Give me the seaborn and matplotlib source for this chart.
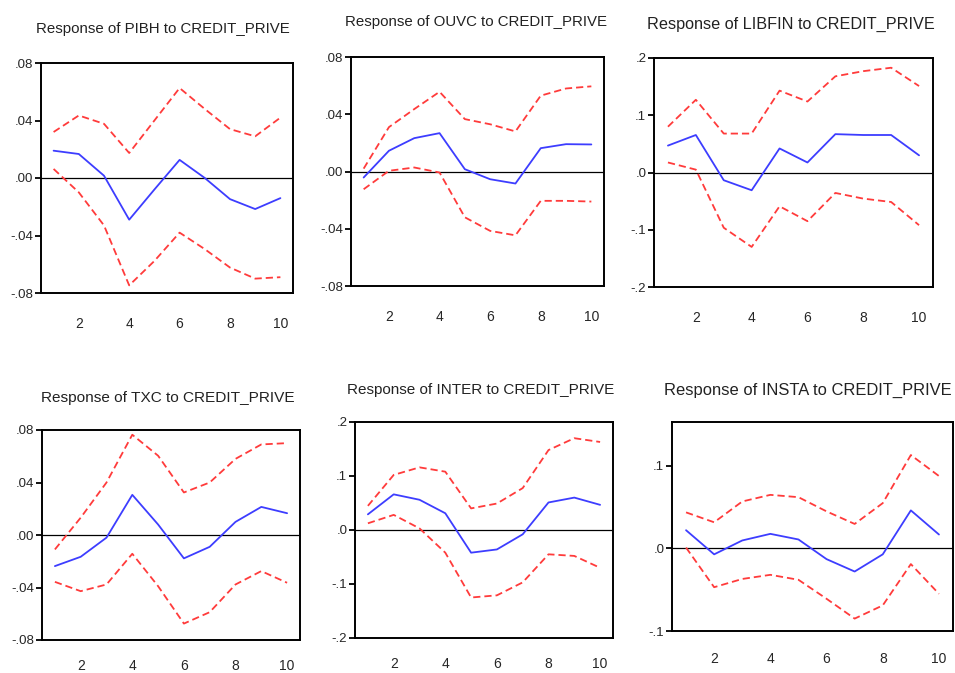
import numpy as np
import pandas as pd
import matplotlib
matplotlib.use("Agg")
import matplotlib.pyplot as plt
from matplotlib import font_manager
from matplotlib.ticker import FixedLocator
import seaborn as sns

# Impulse responses (Cholesky) of each variable to a CREDIT_PRIVE shock, with +/- 2 S.E. bands
periods = list(range(1, 11))

pibh_resp = [0.019, 0.0167, 0.0016, -0.029, -0.008, 0.0126, 0.000, -0.0147, -0.0216, -0.014]
pibh_upper = [0.032, 0.0435, 0.0377, 0.0174, 0.040, 0.0626, 0.048, 0.034, 0.029, 0.042]
pibh_lower = [0.0063, -0.010, -0.033, -0.0747, -0.0577, -0.038, -0.0495, -0.0623, -0.070, -0.069]

ouvc_resp = [-0.0042, 0.0145, 0.0233, 0.0268, 0.0016, -0.0054, -0.0084, 0.0163, 0.0191, 0.0189]
ouvc_upper = [0.002, 0.031, 0.0436, 0.0557, 0.0366, 0.033, 0.028, 0.053, 0.058, 0.0595]
ouvc_lower = [-0.0124, 0.0005, 0.0028, -0.0007, -0.032, -0.0415, -0.0446, -0.0205, -0.0205, -0.021]

libfin_resp = [0.047, 0.0655, -0.0135, -0.031, 0.042, 0.0175, 0.067, 0.0655, 0.0655, 0.030]
libfin_upper = [0.080, 0.127, 0.068, 0.068, 0.143, 0.124, 0.168, 0.177, 0.183, 0.151]
libfin_lower = [0.0175, 0.005, -0.0965, -0.130, -0.059, -0.085, -0.0357, -0.0456, -0.0515, -0.092]

txc_resp = [-0.0237, -0.0166, -0.002, 0.0306, 0.008, -0.0178, -0.009, 0.010, 0.0214, 0.0166]
txc_upper = [-0.011, 0.0132, 0.040, 0.0764, 0.0604, 0.0324, 0.040, 0.058, 0.069, 0.070]
txc_lower = [-0.0357, -0.0428, -0.0377, -0.0143, -0.039, -0.0675, -0.0588, -0.0377, -0.0275, -0.0364]

inter_resp = [0.029, 0.066, 0.056, 0.031, -0.042, -0.036, -0.008, 0.051, 0.060, 0.0466]
inter_upper = [0.0447, 0.102, 0.116, 0.108, 0.040, 0.049, 0.0776, 0.148, 0.170, 0.163]
inter_lower = [0.0124, 0.028, 0.003, -0.042, -0.125, -0.121, -0.097, -0.045, -0.048, -0.070]

insta_resp = [0.022, -0.0072, 0.0096, 0.0176, 0.0108, -0.013, -0.028, -0.0072, 0.046, 0.0168]
insta_upper = [0.0436, 0.0316, 0.0568, 0.0648, 0.062, 0.0448, 0.0296, 0.0548, 0.113, 0.0876]
insta_lower = [0.001, -0.047, -0.037, -0.032, -0.038, -0.061, -0.085, -0.069, -0.019, -0.055]

titles = ["Response of PIBH to CREDIT_PRIVE", "Response of OUVC to CREDIT_PRIVE",
          "Response of LIBFIN to CREDIT_PRIVE", "Response of TXC to CREDIT_PRIVE",
          "Response of INTER to CREDIT_PRIVE", "Response of INSTA to CREDIT_PRIVE"]

ticks_08 = [-0.08, -0.04, 0.0, 0.04, 0.08]
labels_08 = ["-.08", "-.04", ".00", ".04", ".08"]
ticks_2 = [-0.2, -0.1, 0.0, 0.1, 0.2]
labels_2 = ["-.2", "-.1", ".0", ".1", ".2"]
ticks_1 = [-0.1, 0.0, 0.1]
labels_1 = ["-.1", ".0", ".1"]

sns.set_style("white")
available = {f.name for f in font_manager.fontManager.ttflist}
narrow = "Liberation Sans Narrow" if "Liberation Sans Narrow" in available else "Liberation Sans"
plt.rcParams["font.family"] = [narrow, "DejaVu Sans"]

W, H = 955, 673
fig = plt.figure(figsize=(W / 100, H / 100), dpi=100)

# panel boxes in pixels: left, top, right, bottom ; title centre x, y, size ; y-limits, ticks ; x label pad
panels = [
    (pibh_resp, pibh_upper, pibh_lower, (41, 63, 293, 293), (163, 29, 10.8), (-0.08, 0.08), ticks_08, labels_08, 17),
    (ouvc_resp, ouvc_upper, ouvc_lower, (351, 57, 604, 286), (476, 22, 10.8), (-0.08, 0.08), ticks_08, labels_08, 17),
    (libfin_resp, libfin_upper, libfin_lower, (654, 58, 933, 287), (791, 24, 11.7), (-0.2, 0.2), ticks_2, labels_2, 17),
    (txc_resp, txc_upper, txc_lower, (42, 430, 300, 640), (168, 398, 11.1), (-0.08, 0.08), ticks_08, labels_08, 14),
    (inter_resp, inter_upper, inter_lower, (355, 422, 613, 638), (481, 390, 11.0), (-0.2, 0.2), ticks_2, labels_2, 14),
    (insta_resp, insta_upper, insta_lower, (672, 422, 953, 631), (808, 390, 11.9), (-0.1, 0.153), ticks_1, labels_1, 15),
]

blue = "#3d3dff"
red = "#ff3b3b"

for (resp, upper, lower, box, tpos, ylim, yt, yl, xpad), title in zip(panels, titles):
    l, t, r, b = box
    ax = fig.add_axes([l / W, 1 - b / H, (r - l) / W, (b - t) / H])
    df = pd.DataFrame({"period": periods, "resp": resp, "upper": upper, "lower": lower})
    ax.axhline(0, color="black", lw=0.9, zorder=1)
    sns.lineplot(data=df, x="period", y="upper", ax=ax, color=red, lw=1.3, zorder=2)
    sns.lineplot(data=df, x="period", y="lower", ax=ax, color=red, lw=1.3, zorder=2)
    for ln in ax.lines[1:]:
        ln.set_dashes((4, 2.2))
    sns.lineplot(data=df, x="period", y="resp", ax=ax, color=blue, lw=1.3, zorder=3)

    ax.set_xlim(0.5, 10.5)
    ax.set_ylim(*ylim)
    ax.set_xlabel("")
    ax.set_ylabel("")
    ax.set_xticks([2, 4, 6, 8, 10])
    ax.set_xticklabels(["2", "4", "6", "8", "10"])
    ax.xaxis.set_minor_locator(FixedLocator(np.arange(0.5, 11, 1.0)))
    ax.set_yticks(yt)
    ax.set_yticklabels(yl)
    ax.tick_params(axis="x", which="major", length=0, pad=xpad, labelsize=10)
    ax.tick_params(axis="x", which="minor", length=6, width=1.3, direction="out", color="black")
    ax.tick_params(axis="y", which="major", length=4, width=1.3, direction="out", pad=1.5,
                   labelsize=9.5, color="black", left=True)
    for sp in ax.spines.values():
        sp.set_linewidth(1.4)
        sp.set_color("black")
    fig.text(tpos[0] / W, 1 - tpos[1] / H, title, ha="center", va="center",
             fontsize=tpos[2], color="#222222")

fig.savefig("out.png", dpi=100)
